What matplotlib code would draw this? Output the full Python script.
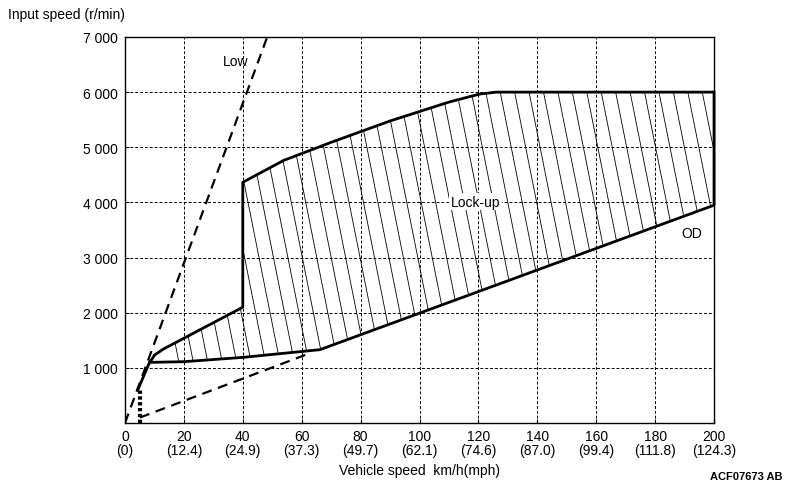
import matplotlib
matplotlib.use("Agg")
import matplotlib.pyplot as plt
import numpy as np
from matplotlib.patches import Polygon

plt.rcParams['font.family'] = ['Liberation Sans', 'DejaVu Sans']

# axis ticks
x_ticks = [0, 20, 40, 60, 80, 100, 120, 140, 160, 180, 200]
x_labels = ["0\n(0)", "20\n(12.4)", "40\n(24.9)", "60\n(37.3)", "80\n(49.7)", "100\n(62.1)",
            "120\n(74.6)", "140\n(87.0)", "160\n(99.4)", "180\n(111.8)", "200\n(124.3)"]
y_ticks = [1000, 2000, 3000, 4000, 5000, 6000, 7000]
y_labels = ["1 000", "2 000", "3 000", "4 000", "5 000", "6 000", "7 000"]

# lock-up zone, upper boundary (left to right)
upper_x = [8.5, 10, 13, 40, 40, 53.8, 70, 90, 110, 120.5, 126, 200]
upper_y = [1100, 1230, 1340, 2100, 4365, 4760, 5090, 5477, 5820, 5966, 6000, 6000]
# lock-up zone, lower boundary (right to left)
lower_x = [200, 200, 66.2, 40, 20, 8.5]
lower_y = [6000, 3950, 1330, 1190, 1112, 1100]

# shift lines
low_x = [0, 48.3]
low_y = [0, 7000]
od_dash_x = [5.1, 62]
od_dash_y = [100, 1250]
start_x = [4.5, 8.5]
start_y = [620, 1120]
stall_x = [5, 5]
stall_y = [0, 620]

fig = plt.figure(figsize=(7.85, 4.89), dpi=100)
ax = fig.add_axes([0.1592, 0.1329, 0.7504, 0.7894])
ax.set_xlim(0, 200)
ax.set_ylim(0, 7000)

for x in x_ticks[1:-1]:
    ax.plot([x, x], [0, 7000], color="black", lw=0.7, ls=(0, (3, 2)), zorder=1)
for y in y_ticks[:-1]:
    ax.plot([0, 200], [y, y], color="black", lw=0.7, ls=(0, (3, 2)), zorder=1)

zone = Polygon(list(zip(upper_x + lower_x, upper_y + lower_y)), closed=True,
               facecolor="none", edgecolor="none")
ax.add_patch(zone)

# steep hatching clipped to the zone
ys = np.array([0, 7000])
for x0 in np.arange(0, 240, 4.9):
    ln, = ax.plot(x0 - 0.00374 * (ys - 6000), ys, color="black", lw=0.6, zorder=2)
    ln.set_clip_path(zone)

ax.plot(upper_x, upper_y, color="black", lw=2, zorder=3, solid_joinstyle="round")
ax.plot(lower_x, lower_y, color="black", lw=2, zorder=3, clip_on=False)
ax.plot(low_x, low_y, color="black", lw=1.6, ls=(0, (4.5, 3)), zorder=3)
ax.plot(od_dash_x, od_dash_y, color="black", lw=1.6, ls=(0, (4.5, 3)), zorder=3)
ax.plot(start_x, start_y, color="black", lw=2, zorder=3)
ax.plot(stall_x, stall_y, color="black", lw=3, ls=(0, (0.8, 0.6)), zorder=3)

ax.text(37.4, 6560, "Low", fontsize=10, ha="center", va="center")
ax.text(119, 4010, "Lock-up", fontsize=10, ha="center", va="center",
        bbox=dict(facecolor="white", edgecolor="none", pad=1))
ax.text(192.5, 3445, "OD", fontsize=10, ha="center", va="center")

ax.set_xticks(x_ticks)
ax.set_xticklabels(x_labels, fontsize=10, linespacing=1.0)
ax.set_yticks(y_ticks)
ax.set_yticklabels(y_labels, fontsize=10)
ax.tick_params(direction="in", length=3, width=0.8, pad=5)
ax.tick_params(axis="x", pad=4)
for s in ax.spines.values():
    s.set_linewidth(1.0)

fig.text(0.010, 0.969, "Input speed (r/min)", fontsize=10, ha="left", va="center")
fig.text(0.535, 0.036, "Vehicle speed  km/h(mph)", fontsize=10, ha="center", va="center")
fig.text(0.997, 0.025, "ACF07673 AB", fontsize=8, ha="right", va="center", fontweight="bold")

fig.savefig("out.png", dpi=100)
